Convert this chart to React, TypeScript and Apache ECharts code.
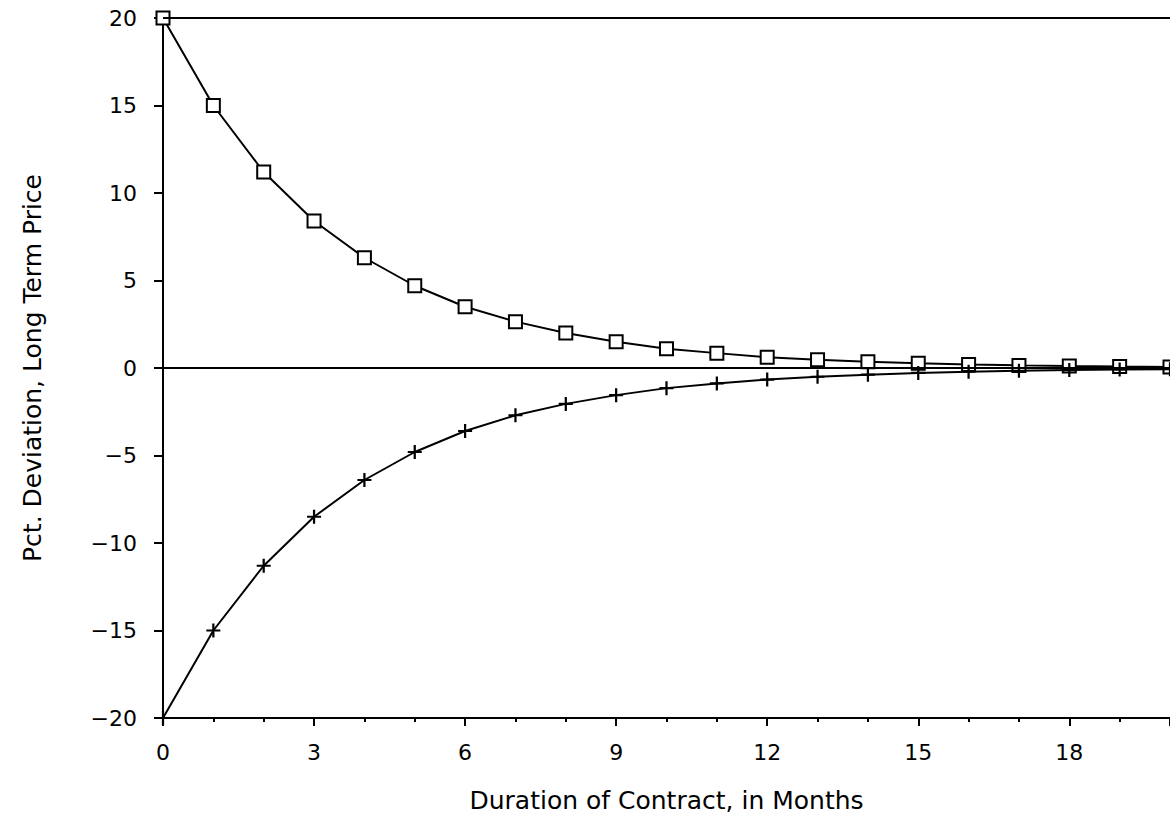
import React, { useEffect, useRef } from "react";
import * as echarts from "echarts";

const months = [0, 1, 2, 3, 4, 5, 6, 7, 8, 9, 10, 11, 12, 13, 14, 15, 16, 17, 18, 19, 20];
const squareSeries = [20, 15, 11.2, 8.4, 6.3, 4.7, 3.5, 2.65, 2.0, 1.5, 1.1, 0.85, 0.62, 0.47, 0.36, 0.27, 0.2, 0.15, 0.11, 0.08, 0.06];
const plusSeries = [-20, -15, -11.3, -8.5, -6.4, -4.8, -3.6, -2.7, -2.05, -1.55, -1.15, -0.88, -0.66, -0.5, -0.38, -0.28, -0.21, -0.16, -0.12, -0.09, -0.07];
const refLines = [20, 0];

const FONT = "DejaVu Sans";
const PLUS = "path://M4.2,0h1.6v4.2h4.2v1.6h-4.2v4.2h-1.6v-4.2h-4.2v-1.6h4.2z";

export default function App() {
  const ref = useRef<HTMLDivElement>(null);
  useEffect(() => {
    if (!ref.current) return;
    const chart = echarts.init(ref.current, undefined, { renderer: "svg" });
    chart.setOption({
      animation: false,
      backgroundColor: "#fff",
      grid: { left: 163, right: 0, top: 18, bottom: 103, containLabel: false },
      xAxis: {
        type: "value",
        min: 0,
        max: 20,
        interval: 3,
        name: "Duration of Contract, in Months",
        nameLocation: "middle",
        nameGap: 70,
        nameTextStyle: { color: "#000", fontFamily: FONT, fontSize: 25 },
        axisLine: { show: true, onZero: false, lineStyle: { color: "#000", width: 2 } },
        axisTick: { show: true, length: 8, lineStyle: { color: "#000", width: 2 } },
        minorTick: { show: true, splitNumber: 3, length: 4, lineStyle: { color: "#000", width: 2 } },
        axisLabel: { color: "#000", fontFamily: FONT, fontSize: 22, margin: 23, showMaxLabel: false },
        splitLine: { show: false },
      },
      yAxis: {
        type: "value",
        min: -20,
        max: 20,
        interval: 5,
        name: "Pct. Deviation, Long Term Price",
        nameLocation: "middle",
        nameGap: 118,
        nameTextStyle: { color: "#000", fontFamily: FONT, fontSize: 25 },
        axisLine: { show: true, onZero: false, lineStyle: { color: "#000", width: 2 } },
        axisTick: { show: true, length: 9, lineStyle: { color: "#000", width: 2 } },
        axisLabel: {
          color: "#000",
          fontFamily: FONT,
          fontSize: 22,
          margin: 26,
          formatter: (v: number) => (v < 0 ? "\u2212" + Math.abs(v) : String(v)),
        },
        splitLine: { show: false },
      },
      series: [
        {
          type: "line",
          data: months.map((m, i) => [m, squareSeries[i]]),
          symbol: "emptyRect",
          symbolSize: 13,
          showAllSymbol: true,
          lineStyle: { color: "#000", width: 2 },
          itemStyle: { color: "#000", borderColor: "#000", borderWidth: 2.2 },
          z: 3,
          markLine: {
            silent: true,
            symbol: "none",
            label: { show: false },
            lineStyle: { color: "#000", width: 2, type: "solid" },
            data: refLines.map((v) => ({ yAxis: v })),
          },
        },
        {
          type: "line",
          data: months.map((m, i) => [m, plusSeries[i]]),
          symbol: PLUS,
          symbolSize: 14,
          showAllSymbol: true,
          lineStyle: { color: "#000", width: 2 },
          itemStyle: { color: "#000" },
          z: 3,
        },
      ],
    });
    return () => chart.dispose();
  }, []);
  return <div ref={ref} style={{ width: 1170, height: 821, position: "absolute", left: 0, top: 0 }} />;
}
